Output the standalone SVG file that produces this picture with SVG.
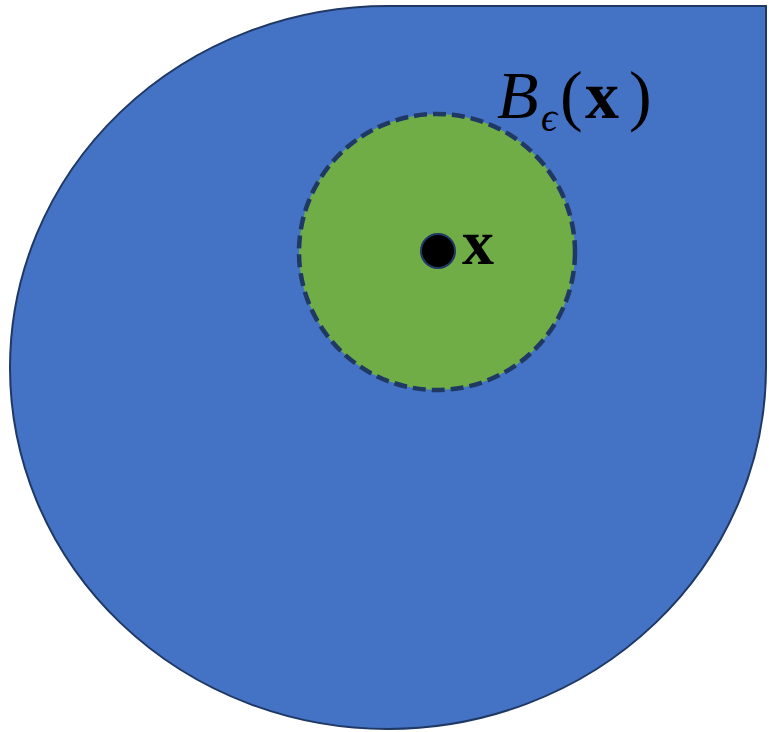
<svg xmlns="http://www.w3.org/2000/svg" width="769" height="732" viewBox="0 0 769 732">
<style>
.outline{stroke:#1f3864;stroke-width:2}
.math{font-family:"Liberation Serif","DejaVu Serif",serif;fill:#000}
</style>
<rect width="769" height="732" fill="#fff"/>
<g id="region">
<path class="outline" fill="#4472c4" d="M388 6 H766 V367.5 A378 361.5 0 1 1 388 6 Z"/>
</g>
<g id="ball">
<circle cx="437" cy="252" r="138" fill="#70ad47" stroke="#1f3864" stroke-width="4.5" stroke-dasharray="13 6"/>
</g>
<g id="point">
<circle cx="438" cy="251" r="17" fill="#000" stroke="#1f3864" stroke-width="2"/>
<text class="math" x="462" y="264" font-size="64" font-weight="bold">x</text>
</g>
<g id="label">
<text class="math" x="497" y="118" font-size="68" font-style="italic">B</text>
<text class="math" x="541" y="131" font-size="40" font-style="italic">ϵ</text>
<text class="math" x="560" y="118" font-size="68">(</text>
<text class="math" x="585" y="118" font-size="68" font-weight="bold">x</text>
<text class="math" x="629" y="118" font-size="68">)</text>
</g>
</svg>
